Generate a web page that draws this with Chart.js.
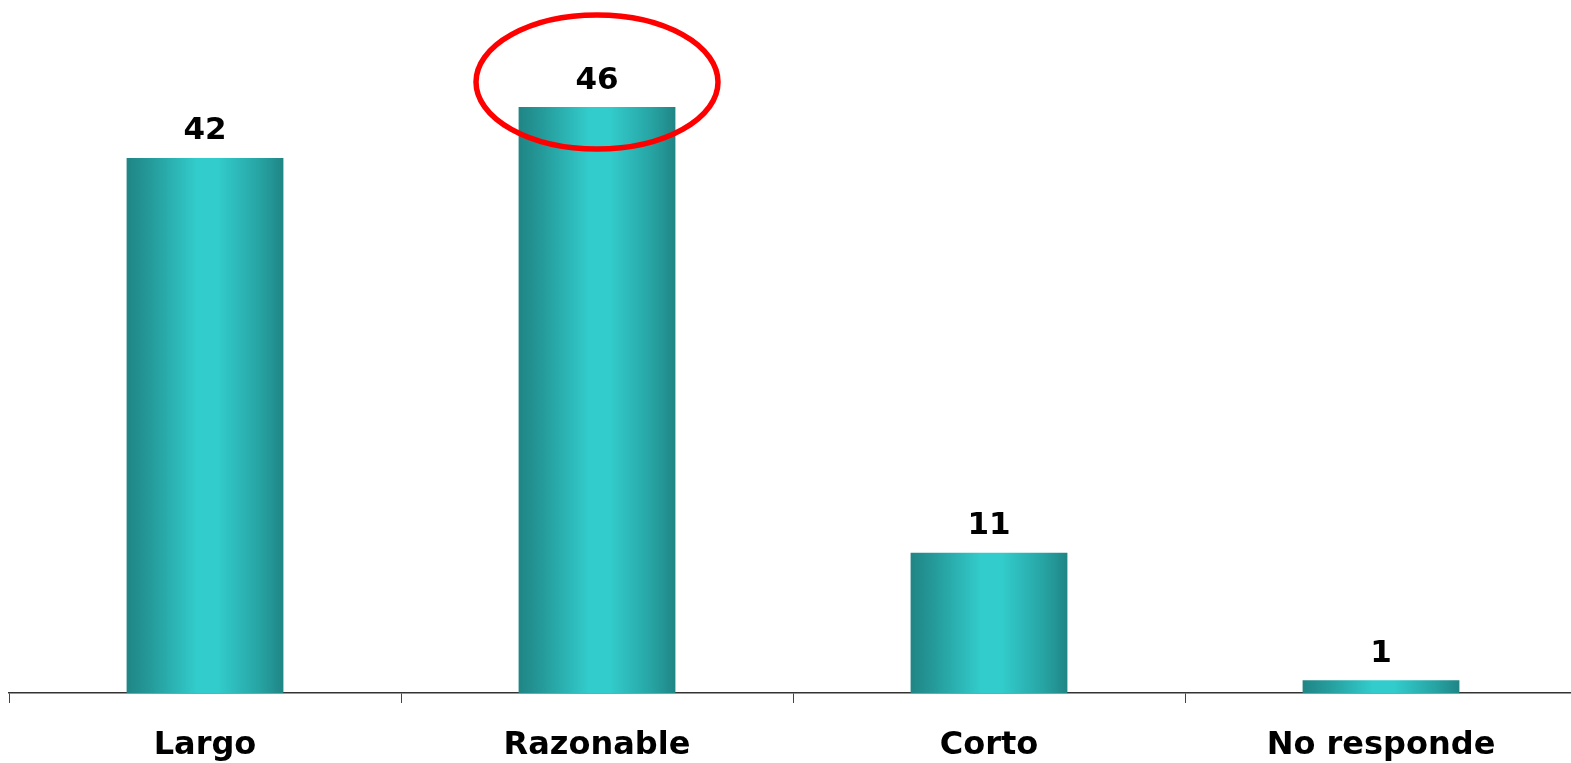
<!DOCTYPE html>
<html>
<head>
<meta charset="utf-8">
<script src="https://cdn.jsdelivr.net/npm/chart.js@4"></script>
<style>
  body { margin: 0; overflow: hidden; background: #fff; }
  #wrap { width: 1590px; height: 763px; }
</style>
</head>
<body>
<div id="wrap"><canvas id="grafico" width="1590" height="763"></canvas></div>
<script>
var categorias = ['Largo', 'Razonable', 'Corto', 'No responde'];
var valores = [42, 46, 11, 1];
var destacado = 1; // barra marcada con el óvalo rojo

var fuente = '"DejaVu Sans", Verdana, sans-serif';

function degradado(ctx) {
    var chart = ctx.chart;
    if (!chart.chartArea || !chart.scales.x) return '#2fb8b8';
    var x = chart.scales.x.getPixelForValue(ctx.dataIndex);
    var ancho = chart.scales.x.width / categorias.length * 0.4;
    var g = chart.ctx.createLinearGradient(x - ancho / 2, 0, x + ancho / 2, 0);
    g.addColorStop(0, '#208585');
    g.addColorStop(0.15, '#259a9a');
    g.addColorStop(0.45, '#33cccc');
    g.addColorStop(0.58, '#33cccc');
    g.addColorStop(0.85, '#27a3a3');
    g.addColorStop(1, '#208585');
    return g;
}

var etiquetas = {
    id: 'etiquetas',
    afterDatasetsDraw: function(chart) {
        var ctx = chart.ctx;
        var meta = chart.getDatasetMeta(0);
        ctx.save();
        ctx.font = 'bold 31px ' + fuente;
        ctx.fillStyle = '#000';
        ctx.textAlign = 'center';
        ctx.textBaseline = 'bottom';
        meta.data.forEach(function(bar, i) {
            ctx.fillText(valores[i], bar.x, bar.y - 11);
        });
        // óvalo rojo sobre la barra destacada
        var b = meta.data[destacado];
        ctx.beginPath();
        ctx.ellipse(b.x, b.y - 25, 121, 67, 0, 0, Math.PI * 2);
        ctx.strokeStyle = '#ff0000';
        ctx.lineWidth = 5.5;
        ctx.stroke();
        ctx.restore();
    }
};

new Chart(document.getElementById('grafico'), {
    type: 'bar',
    data: {
        labels: categorias,
        datasets: [{
            data: valores,
            backgroundColor: degradado,
            borderWidth: 0,
            barPercentage: 0.4,
            categoryPercentage: 1
        }]
    },
    options: {
        responsive: false,
        animation: false,
        layout: { padding: { left: 9, right: 13, top: 56, bottom: 2 } },
        plugins: { legend: { display: false }, tooltip: { enabled: false } },
        scales: {
            x: {
                afterFit: function(escala) { escala.height = 68; },
                grid: {
                    drawOnChartArea: false,
                    offset: true,
                    tickLength: 10,
                    color: '#444',
                    lineWidth: 1
                },
                border: { color: '#333', width: 1.5 },
                ticks: {
                    padding: 23,
                    color: '#000',
                    font: { family: fuente, size: 32, weight: 'bold' }
                }
            },
            y: {
                display: false,
                min: 0,
                max: 50
            }
        }
    },
    plugins: [etiquetas]
});
</script>
</body>
</html>
